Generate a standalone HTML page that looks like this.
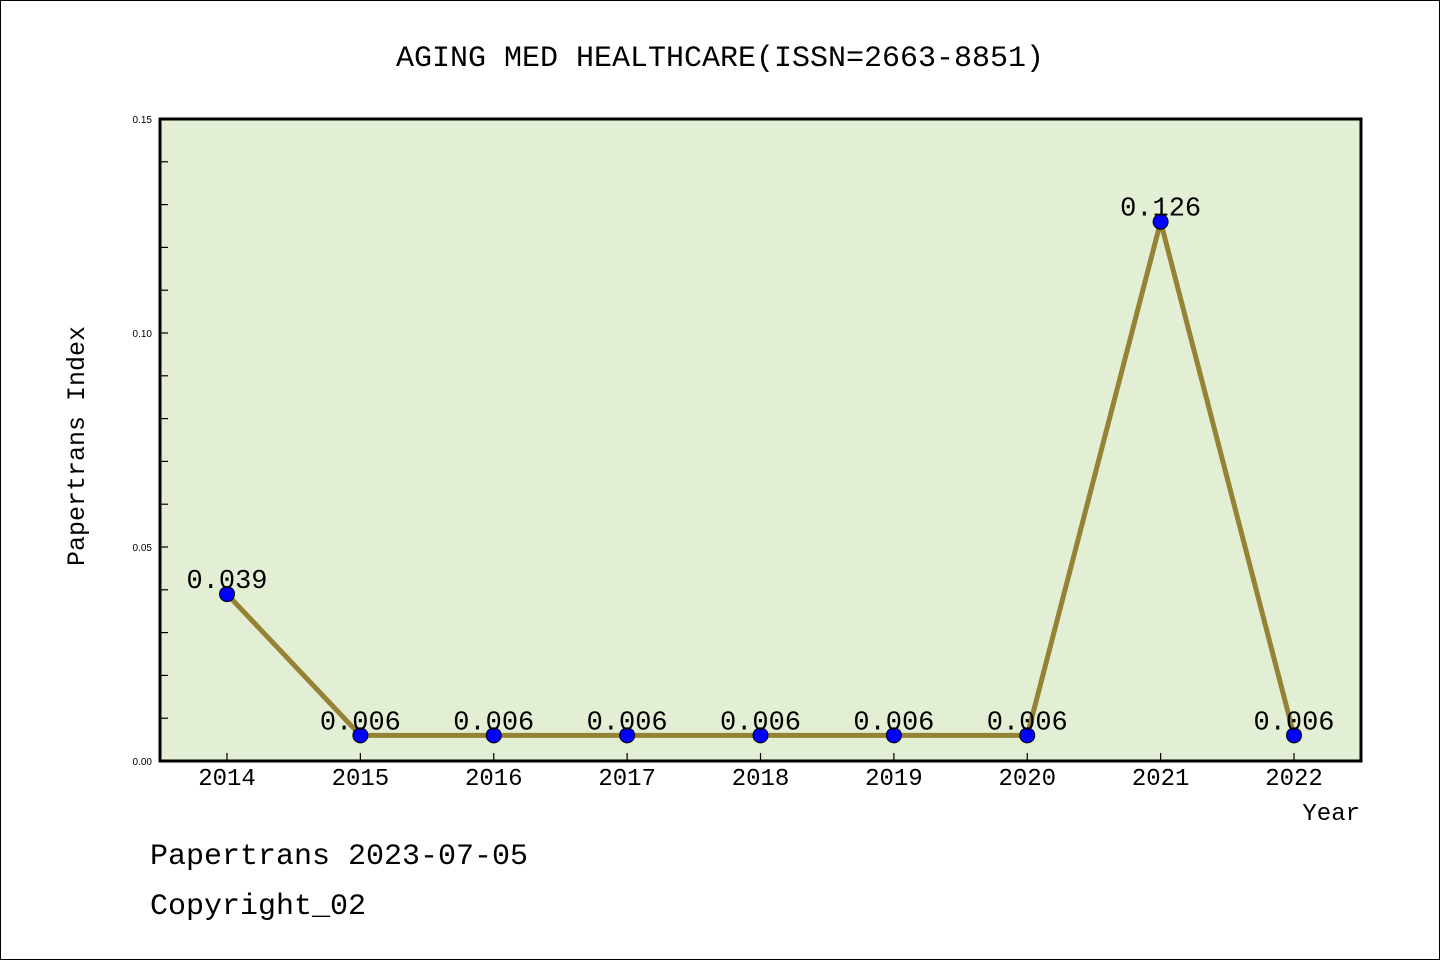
<!DOCTYPE html>
<html><head><meta charset="utf-8"><style>
html,body{margin:0;padding:0;background:#fff}
svg{display:block}
text{font-family:"Liberation Mono",monospace;fill:#000}
text.small{font-family:"Liberation Sans",sans-serif}
</style></head><body>
<svg id="chart" width="1440" height="960">
<rect x="0.5" y="0.5" width="1439" height="959" fill="#fff" stroke="#000"/>
<text x="720" y="66" font-size="30" text-anchor="middle">AGING MED HEALTHCARE(ISSN=2663-8851)</text>
<rect x="160" y="119" width="1201" height="642" fill="#e2efd4"/>
<g id="ticks"></g>
<g id="series"></g>
<rect x="160" y="119" width="1201" height="642" fill="none" stroke="#000" stroke-width="3"/>
<text transform="translate(84,446) rotate(-90)" font-size="25" text-anchor="middle">Papertrans Index</text>
<text x="1360" y="820" font-size="24" text-anchor="end">Year</text>
<text x="150" y="864" font-size="30">Papertrans 2023-07-05</text>
<text x="150" y="914" font-size="30">Copyright_02</text>
</svg>
<script>
const years = ["2014","2015","2016","2017","2018","2019","2020","2021","2022"];
const values = [0.039,0.006,0.006,0.006,0.006,0.006,0.006,0.126,0.006];
const valueLabels = ["0.039","0.006","0.006","0.006","0.006","0.006","0.006","0.126","0.006"];
const yTickLabels = ["0.00","0.05","0.10","0.15"];
const yTickValues = [0,0.05,0.10,0.15];
const NS="http://www.w3.org/2000/svg";
const X0=227, DX=(1294-227)/8;
function xs(i){return X0+i*DX;}
function ys(v){return 761-v/0.15*642;}
function mk(tag,attrs,parent){const e=document.createElementNS(NS,tag);for(const k in attrs)e.setAttribute(k,attrs[k]);parent.appendChild(e);return e;}
const tg=document.getElementById('ticks'), sg=document.getElementById('series');
for(let k=0;k<=15;k++){
  const y=ys(k*0.01);
  const t=mk('line',{x1:160,x2:168,y1:y,y2:y,stroke:'#000','stroke-width':1.2},tg);
  
  
}
yTickValues.forEach((v,i)=>{
  const t=mk('text',{x:152,y:ys(v)+4,'font-size':10,'text-anchor':'end','class':'small'},tg);
  t.textContent=yTickLabels[i];
  
  
});
years.forEach((yr,i)=>{
  const x=xs(i);
  const t=mk('line',{x1:x,x2:x,y1:761,y2:753,stroke:'#000','stroke-width':1.2},tg);
  
  
  const l=mk('text',{x:x,y:785,'font-size':24,'text-anchor':'middle'},tg);
  l.textContent=yr;
  
  
});
const pts=values.map((v,i)=>xs(i)+','+ys(v)).join(' ');
const line=mk('polyline',{points:pts,fill:'none',stroke:'#958235','stroke-width':5,'stroke-linejoin':'round'},sg);


values.forEach((v,i)=>{
  const c=mk('circle',{cx:xs(i),cy:ys(v),r:7.5,fill:'#0000ff',stroke:'#000','stroke-width':1},sg);
  
  
  const t=mk('text',{x:xs(i),y:ys(v)-6,'font-size':27,'text-anchor':'middle'},sg);
  t.textContent=valueLabels[i];
  
  
});
</script>
</body></html>
